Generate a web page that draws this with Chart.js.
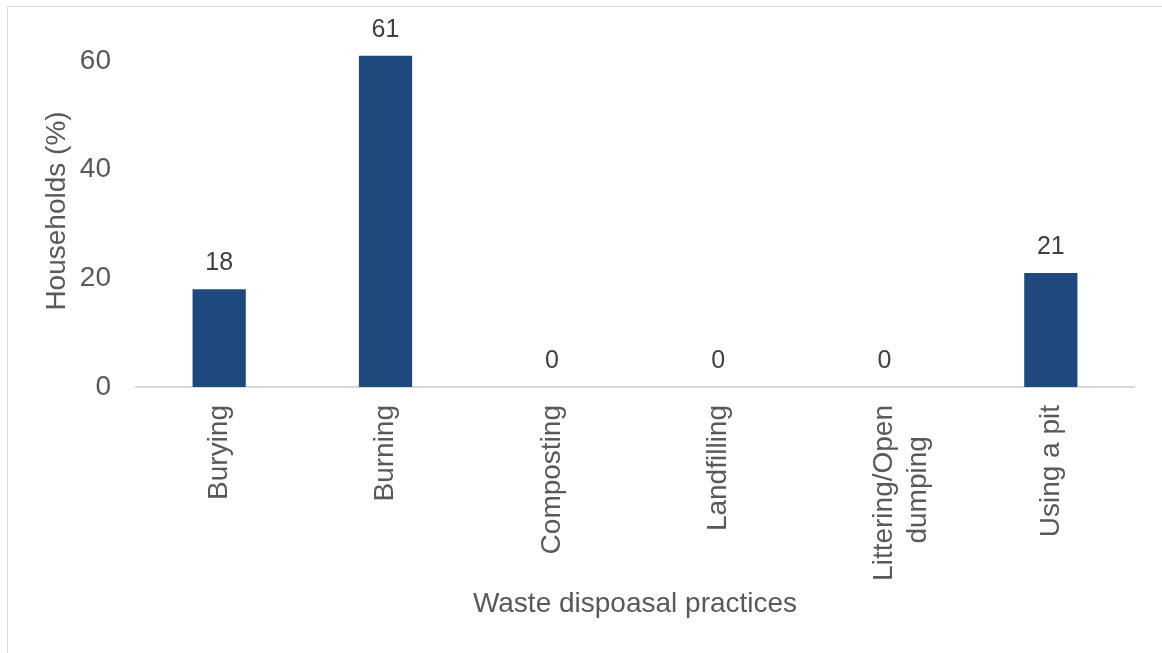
<!DOCTYPE html>
<html>
<head>
<meta charset="utf-8">
<script src="https://cdn.jsdelivr.net/npm/chart.js@4.4.1/dist/chart.umd.min.js"></script>
<style>
  body { margin: 0; background: #ffffff; }
  #wrap { position: relative; width: 1162px; height: 653px; overflow: hidden; }
  #frame { position: absolute; left: 7px; top: 6px; width: 1200px; height: 700px; border: 1.5px solid #d9d9d9; }
  #myChart { position: absolute; left: 0; top: 0; }
</style>
</head>
<body>
<div id="wrap">
  <div id="frame"></div>
  <canvas id="myChart" width="1162" height="653"></canvas>
</div>
<script>
// disposal practices and share of households
const practices = ['Burying', 'Burning', 'Composting', 'Landfilling', ['Littering/Open', 'dumping    '], 'Using a pit'];
const households = [18, 61, 0, 0, 0, 21];
const yTicks = [0, 20, 40, 60];

const FONT = 'Liberation Sans, Arial, sans-serif';

// writes the value over each bar
const valueLabels = {
    id: 'valueLabels',
    afterDatasetsDraw(chart)
    {
        const ctx = chart.ctx;
        const meta = chart.getDatasetMeta(0);
        ctx.save();
        ctx.font = '25px ' + FONT;
        ctx.fillStyle = '#404040';
        ctx.textAlign = 'center';
        ctx.textBaseline = 'alphabetic';
        meta.data.forEach(function (bar, i) {
            ctx.fillText(String(households[i]), bar.x, bar.y - 19);
        });
        ctx.restore();
    }
};

const ctx = document.getElementById('myChart').getContext('2d');
const myChart = new Chart(ctx, {
    type: 'bar',
    data: {
        labels: practices,
        datasets: [{
            data: households,
            backgroundColor: '#1f497d',
            borderWidth: 0,
            barPercentage: 0.32,
            categoryPercentage: 1,
            clip: false
        }]
    },
    options: {
        responsive: false,
        animation: false,
        layout: { padding: { top: 35, right: 28, bottom: 32, left: 0 } },
        plugins: {
            legend: { display: false },
            tooltip: { enabled: false }
        },
        scales: {
            x: {
                grid: { display: false, drawTicks: false },
                border: { display: true, color: '#d9d9d9', width: 2 },
                ticks: {
                    color: '#595959',
                    font: { family: FONT, size: 28 },
                    minRotation: 90,
                    maxRotation: 90,
                    padding: 18
                },
                title: {
                    display: true,
                    text: 'Waste dispoasal practices',
                    color: '#595959',
                    font: { family: FONT, size: 28 },
                    padding: 0
                },
                afterFit(scale) { scale.height = 234; }
            },
            y: {
                min: 0,
                max: 64.8,
                grid: { display: false, drawTicks: false },
                border: { display: false },
                afterBuildTicks(scale) {
                    scale.ticks = yTicks.map(function (v) { return { value: v }; });
                },
                ticks: {
                    color: '#595959',
                    font: { family: FONT, size: 28 },
                    padding: 25
                },
                title: {
                    display: true,
                    text: 'Households (%)',
                    color: '#595959',
                    font: { family: FONT, size: 28 },
                    padding: { top: 40, bottom: 0 }
                },
                afterFit(scale) {
                    scale.width = 136;
                    scale.paddingTop = 0;
                    scale.paddingBottom = 0;
                }
            }
        }
    },
    plugins: [valueLabels]
});
</script>
</body>
</html>
